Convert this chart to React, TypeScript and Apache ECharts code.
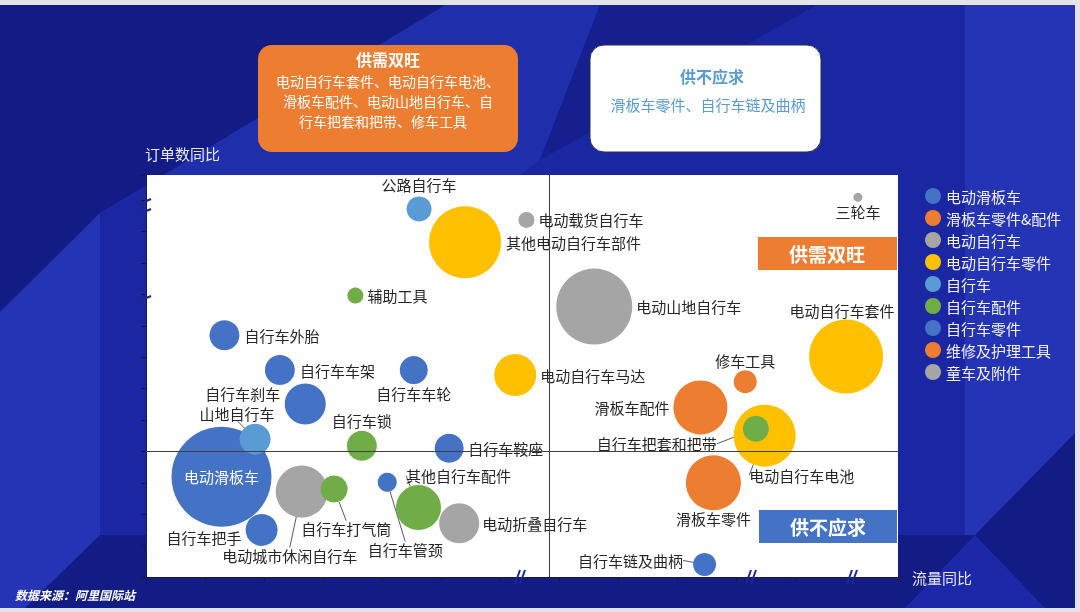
import React, { useEffect, useRef } from "react";
import * as echarts from "echarts";

const FONT = "'Noto Sans CJK SC', 'Noto Sans', sans-serif";

const seriesNames = ["电动滑板车", "滑板车零件&配件", "电动自行车", "电动自行车零件", "自行车", "自行车配件", "自行车零件", "维修及护理工具", "童车及附件"];
const seriesColors = ["#4472c4", "#ed7d31", "#a5a5a5", "#ffc000", "#5b9bd5", "#70ad47", "#4472c4", "#ed7d31", "#a5a5a5"];

// [name, 流量同比 (x), 订单数同比 (y), bubble size]
const eScooter = [["电动滑板车", 1.28, 3.19, 100]];
const scooterParts = [["滑板车配件", 9.40, 5.40, 54], ["滑板车零件", 9.62, 3.00, 55]];
const eBikes = [["电动山地自行车", 7.60, 8.61, 76], ["电动城市休闲自行车", 2.64, 2.72, 52], ["电动折叠自行车", 5.31, 1.71, 40], ["电动载货自行车", 6.45, 11.37, 16]];
const eBikeParts = [["其他电动自行车部件", 5.41, 10.66, 72], ["电动自行车马达", 6.26, 6.43, 42], ["电动自行车套件", 11.87, 7.02, 74], ["电动自行车电池", 10.49, 4.50, 62]];
const bikes = [["公路自行车", 4.63, 11.72, 25], ["山地自行车", 1.85, 4.39, 31]];
const bikeAccessories = [["辅助工具", 3.55, 8.96, 16], ["自行车锁", 3.66, 4.18, 30], ["自行车打气筒", 3.19, 2.80, 27], ["其他自行车配件", 4.62, 2.21, 45], ["自行车把套和把带", 10.34, 4.72, 26]];
const bikeParts = [["自行车外胎", 1.33, 7.70, 30], ["自行车车架", 2.27, 6.59, 30], ["自行车车轮", 4.54, 6.59, 28], ["自行车刹车", 2.70, 5.51, 41], ["自行车鞍座", 5.14, 4.10, 29], ["自行车把手", 1.96, 1.50, 32], ["自行车管颈", 4.09, 3.02, 19], ["自行车链及曲柄", 9.47, 0.40, 23]];
const repairTools = [["修车工具", 10.16, 6.22, 23]];
const kidsBikes = [["三轮车", 12.07, 12.09, 9]];

const allSeriesData = [eScooter, scooterParts, eBikes, eBikeParts, bikes, bikeAccessories, bikeParts, repairTools, kidsBikes];

// axis extents and quadrant dividers
const xMax = 12.75;
const yMax = 12.8;
const xMid = 6.83;
const yMid = 4.0;

const quadrantTitleHigh = "供需双旺";
const quadrantItemsHigh = ["电动自行车套件、电动自行车电池、", "滑板车配件、电动山地自行车、自", "行车把套和把带、修车工具"];
const quadrantTitleShort = "供不应求";
const quadrantItemsShort = "滑板车零件、自行车链及曲柄";

type Placement = { position: string; distance?: number; color?: string; dx?: number; dy?: number; leader?: boolean };
const labelPlacement: Record<string, Placement> = {
  "电动滑板车": { position: "inside", color: "#ffffff" },
  "滑板车配件": { position: "left", distance: 4 },
  "滑板车零件": { position: "bottom", distance: 1 },
  "电动山地自行车": { position: "right", distance: 4 },
  "电动城市休闲自行车": { position: "bottom", dx: -12, dy: 25, leader: true },
  "电动折叠自行车": { position: "right", distance: 3 },
  "电动载货自行车": { position: "right", distance: 4 },
  "其他电动自行车部件": { position: "right", distance: 5 },
  "电动自行车马达": { position: "right", distance: 4 },
  "电动自行车套件": { position: "top", distance: 2, dx: -4 },
  "电动自行车电池": { position: "bottom", dx: 37, dy: -4, leader: true },
  "公路自行车": { position: "top", distance: 4 },
  "山地自行车": { position: "top", dx: -18, dy: 2, leader: true },
  "辅助工具": { position: "right", distance: 4 },
  "自行车锁": { position: "top", distance: 3 },
  "自行车打气筒": { position: "bottom", dx: 12, dy: 13, leader: true },
  "其他自行车配件": { position: "top", dx: 40, dy: 3, leader: true },
  "自行车把套和把带": { position: "left", dx: -21, dy: 15, leader: true },
  "自行车外胎": { position: "right", distance: 5 },
  "自行车车架": { position: "right", distance: 5 },
  "自行车车轮": { position: "bottom", distance: 1.5 },
  "自行车刹车": { position: "left", distance: 4.5, dy: -10 },
  "自行车鞍座": { position: "right", distance: 4.5 },
  "自行车把手": { position: "left", distance: 4, dy: 8 },
  "自行车管颈": { position: "bottom", dx: 18, dy: 45, leader: true },
  "自行车链及曲柄": { position: "left", dx: -5, dy: -4, leader: true },
  "修车工具": { position: "top", distance: 2.5 },
  "三轮车": { position: "bottom", distance: 2.5 },
};

function buildOption() {
  const series: any[] = allSeriesData.map((rows, i) => ({
    type: "scatter",
    name: seriesNames[i],
    z: 2,
    itemStyle: { color: seriesColors[i], opacity: 1 },
    symbolSize: (v: number[]) => v[2],
    emphasis: { disabled: true },
    label: { show: true, formatter: "{b}", fontSize: 15, color: "#262626", fontFamily: FONT },
    labelLine: { show: false, lineStyle: { color: "#595959", width: 1 } },
    labelLayout: (p: any) => {
      const pl = labelPlacement[p.text];
      if (pl && (pl.dx || pl.dy)) return { dx: pl.dx || 0, dy: pl.dy || 0 };
      return {};
    },
    data: rows.map((r: any[]) => {
      const pl = labelPlacement[r[0]] || { position: "right" };
      const label: any = { position: pl.position };
      if (pl.distance !== undefined) label.distance = pl.distance;
      if (pl.color) label.color = pl.color;
      const item: any = { name: r[0], value: [r[1], r[2], r[3]], label };
      if (pl.leader) item.labelLine = { show: true, lineStyle: { color: "#595959", width: 1 } };
      return item;
    }),
  }));

  series.push({
    type: "scatter",
    name: "quadrant",
    data: [],
    z: 10,
    silent: true,
    markLine: {
      silent: true,
      symbol: "none",
      z: 10,
      label: { show: false },
      lineStyle: { color: "#404040", width: 1, type: "solid" },
      data: [{ xAxis: xMid }, { yAxis: yMid }],
    },
  });

  const txt = (text: string, x: number, y: number, o: any = {}) => ({
    type: "text",
    x,
    y,
    z: o.z ?? 20,
    style: {
      text,
      fill: o.fill ?? "#ffffff",
      fontSize: o.fontSize ?? 15,
      fontWeight: o.fontWeight ?? "normal",
      fontStyle: o.fontStyle ?? "normal",
      fontFamily: FONT,
      textAlign: o.align ?? "center",
      align: o.align ?? "center",
      textVerticalAlign: "middle",
      verticalAlign: "middle",
    },
  });

  const breakLine = (x1: number, y1: number, x2: number, y2: number) => ({
    type: "line",
    z: 60,
    shape: { x1, y1, x2, y2 },
    style: { stroke: "#1c2890", lineWidth: 2 },
  });

  const graphic: any[] = [
    { type: "rect", z: -100, shape: { x: 0, y: 0, width: 1080, height: 612 }, style: { fill: "#e3e3ea" } },
    { type: "rect", z: -99, shape: { x: 0, y: 5, width: 1075, height: 603 }, style: { fill: "#1b27a2" } },
    { type: "polygon", z: -98, shape: { points: [[100, 175], [100, 213], [445, 5], [600, 5], [540, 160], [520, 175]] }, style: { fill: "#1f2eab" } },
    { type: "polygon", z: -98, shape: { points: [[0, 5], [445, 5], [100, 213], [0, 312]] }, style: { fill: "#131c84" } },
    { type: "polygon", z: -98, shape: { points: [[0, 312], [100, 213], [100, 537], [25, 608], [0, 608]] }, style: { fill: "#2534b4" } },
    { type: "polygon", z: -98, shape: { points: [[600, 5], [817, 5], [540, 160]] }, style: { fill: "#161f8e" } },
    { type: "rect", z: -98, shape: { x: 965, y: 5, width: 110, height: 603 }, style: { fill: "#2434b4" } },
    { type: "polygon", z: -97, shape: { points: [[25, 608], [100, 535], [975, 535], [1075, 433], [1075, 608]] }, style: { fill: "#131c84" } },
    { type: "polygon", z: -96, shape: { points: [[975, 535], [905, 608], [1045, 608]] }, style: { fill: "#1c28a8" } },

    { type: "rect", z: 10, shape: { x: 258, y: 45, width: 260, height: 107, r: 14 }, style: { fill: "#ed7d31" } },
    txt(quadrantTitleHigh, 388, 59, { fontSize: 16, fontWeight: "bold" }),
    txt(quadrantItemsHigh[0], 388, 81, { fontSize: 14 }),
    txt(quadrantItemsHigh[1], 388, 101, { fontSize: 14 }),
    txt(quadrantItemsHigh[2], 383, 121, { fontSize: 14 }),

    { type: "rect", z: 10, shape: { x: 590, y: 45, width: 231, height: 107, r: 14 }, style: { fill: "#ffffff", stroke: "#2a2a50", lineWidth: 1 } },
    txt(quadrantTitleShort, 712, 76, { fontSize: 16, fontWeight: "bold", fill: "#5b9bd5" }),
    txt(quadrantItemsShort, 708, 104, { fill: "#5b9bd5" }),

    txt("订单数同比", 145, 153, { align: "left", fill: "#e8e8f2" }),
    txt("流量同比", 912, 577, { align: "left", fill: "#e8e8f2" }),
    txt("数据来源：阿里国际站", 15, 594, { align: "left", fontSize: 12, fontWeight: "bold", fontStyle: "italic" }),

    { type: "rect", z: 100, shape: { x: 758, y: 237, width: 139, height: 33 }, style: { fill: "#ed7d31" } },
    txt("供需双旺", 827, 253, { z: 101, fontSize: 19, fontWeight: "bold" }),
    { type: "rect", z: 100, shape: { x: 759, y: 510, width: 138, height: 33 }, style: { fill: "#4472c4" } },
    txt("供不应求", 828, 526, { z: 101, fontSize: 19, fontWeight: "bold" }),

    breakLine(515, 584, 520, 570),
    breakLine(520, 584, 525, 570),
    breakLine(746, 584, 751, 570),
    breakLine(751, 584, 756, 570),
    breakLine(847, 584, 852, 570),
    breakLine(852, 584, 857, 570),
    breakLine(137, 205, 151, 199),
    breakLine(137, 215, 151, 209),
    breakLine(137, 302, 151, 296),
  ];

  return {
    animation: false,
    textStyle: { fontFamily: FONT },
    grid: { left: 146, right: 182, top: 175, bottom: 35, show: true, backgroundColor: "#ffffff", borderWidth: 0 },
    xAxis: {
      type: "value",
      min: 0,
      max: xMax,
      interval: 1,
      axisLine: { show: true, onZero: false, lineStyle: { color: "#1a1a3a", width: 1 } },
      axisTick: { show: true, length: 5, lineStyle: { color: "#1a1a3a" } },
      axisLabel: { show: false },
      splitLine: { show: false },
    },
    yAxis: {
      type: "value",
      min: 0,
      max: yMax,
      interval: 1,
      axisLine: { show: true, onZero: false, lineStyle: { color: "#1a1a3a", width: 1 } },
      axisTick: { show: true, length: 5, lineStyle: { color: "#1a1a3a" } },
      axisLabel: { show: false },
      splitLine: { show: false },
    },
    legend: {
      data: seriesNames,
      orient: "vertical",
      left: 920,
      top: 183,
      icon: "circle",
      itemWidth: 16,
      itemHeight: 16,
      itemGap: 6,
      selectedMode: false,
      textStyle: { color: "#f2f2f8", fontSize: 15, fontFamily: FONT },
    },
    graphic,
    series,
  };
}

export default function App() {
  const ref = useRef<HTMLDivElement>(null);
  useEffect(() => {
    if (!ref.current) return;
    const chart = echarts.init(ref.current, undefined, { renderer: "svg" });
    chart.setOption(buildOption() as any);
    return () => chart.dispose();
  }, []);
  return <div ref={ref} style={{ position: "fixed", left: 0, top: 0, width: 1080, height: 612 }} />;
}
